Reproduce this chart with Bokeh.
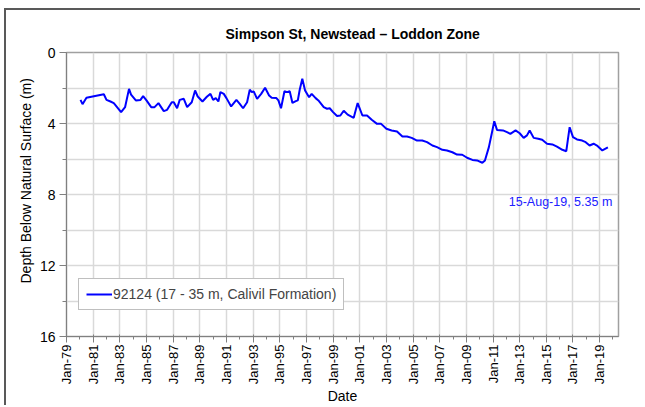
import math
import pandas as pd
from bokeh.plotting import figure
from bokeh.models import (Range1d, FixedTicker, DatetimeTickFormatter, Legend,
                          LegendItem, Label, Title, ColumnDataSource)
from bokeh.embed import file_html
from bokeh.resources import INLINE

title_text = "Simpson St, Newstead \u2013 Loddon Zone"
series_name = "92124 (17 - 35 m, Calivil Formation)"
y_label = "Depth Below Natural Surface (m)"
x_label = "Date"
last_note = "15-Aug-19, 5.35 m"

dates = [
    "1980-01-20", "1980-03-15", "1980-07-01", "1981-10-20", "1982-01-01", "1982-04-20",
    "1982-07-20", "1983-02-05", "1983-05-25", "1983-09-10", "1983-11-05", "1984-03-15",
    "1984-07-20", "1984-10-01", "1985-01-01", "1985-05-10", "1985-08-10", "1985-11-25",
    "1986-04-20", "1986-07-20", "1986-11-25", "1987-01-20", "1987-04-20", "1987-07-01",
    "1987-10-20", "1988-01-20", "1988-05-25", "1988-08-25", "1988-11-05", "1989-03-15",
    "1989-07-20", "1989-10-20", "1990-01-01", "1990-03-15", "1990-05-25", "1990-07-20",
    "1990-10-20", "1991-01-01", "1991-05-10", "1991-10-01", "1992-01-01", "1992-04-01",
    "1992-07-20", "1992-10-01", "1992-11-25", "1993-01-20", "1993-04-20", "1993-08-10",
    "1993-11-25", "1994-03-15", "1994-05-25", "1994-10-01", "1994-11-25", "1995-02-05",
    "1995-05-10", "1995-07-20", "1995-10-01", "1995-12-15", "1996-03-15", "1996-05-10",
    "1996-07-01", "1996-09-10", "1996-11-25", "1997-03-15", "1997-05-25", "1997-09-10",
    "1997-11-25", "1998-04-20", "1998-07-20", "1998-10-01", "1999-01-01", "1999-04-20",
    "1999-07-20", "1999-10-20", "2000-02-05", "2000-07-20", "2000-09-10", "2000-11-05",
    "2001-03-15", "2001-07-20", "2001-11-25", "2002-04-20", "2002-08-10", "2003-01-01",
    "2003-05-25", "2003-10-20", "2004-03-15", "2004-07-20", "2004-11-25", "2005-04-20",
    "2005-09-10", "2006-01-20", "2006-06-15", "2006-10-20", "2007-03-15", "2007-07-20",
    "2007-12-15", "2008-04-20", "2008-09-10", "2009-01-20", "2009-06-15", "2009-10-20",
    "2010-03-15", "2010-05-25", "2010-09-10", "2010-12-15", "2011-02-05", "2011-04-20",
    "2011-10-01", "2012-01-20", "2012-04-20", "2012-09-10", "2013-01-01", "2013-04-20",
    "2013-07-20", "2013-10-01", "2014-01-20", "2014-05-25", "2014-09-10", "2015-01-20",
    "2015-06-15", "2015-10-20", "2016-03-15", "2016-07-01", "2016-08-10", "2016-10-01",
    "2017-01-01", "2017-04-20", "2017-09-10", "2017-12-15", "2018-04-01", "2018-07-20",
    "2018-10-20", "2019-03-15", "2019-08-15",
]
depths = [
    2.67, 2.91, 2.55, 2.35, 2.67, 2.76,
    2.85, 3.36, 3.08, 2.05, 2.37, 2.70,
    2.67, 2.46, 2.70, 3.08, 3.08, 2.85,
    3.30, 3.23, 2.80, 2.80, 3.14, 2.67,
    2.61, 3.08, 2.80, 2.14, 2.48, 2.76,
    2.48, 2.33, 2.67, 2.57, 2.76, 2.23,
    2.33, 2.57, 3.04, 2.67, 2.89, 3.14,
    2.80, 2.10, 2.23, 2.20, 2.61, 2.33,
    1.99, 2.42, 2.55, 2.57, 2.70, 3.14,
    2.18, 2.23, 2.18, 2.84, 2.74, 2.70,
    2.10, 1.48, 2.14, 2.52, 2.33, 2.57,
    2.70, 3.08, 3.17, 3.14, 3.36, 3.58,
    3.55, 3.28, 3.50, 3.68, 3.27, 2.85,
    3.55, 3.55, 3.79, 4.02, 4.02, 4.30,
    4.39, 4.45, 4.73, 4.73, 4.81, 4.96,
    4.96, 5.05, 5.24, 5.33, 5.48, 5.52,
    5.62, 5.75, 5.76, 5.93, 6.05, 6.08,
    6.21, 6.08, 5.33, 4.39, 3.87, 4.36,
    4.39, 4.49, 4.58, 4.39, 4.55, 4.81,
    4.67, 4.39, 4.81, 4.86, 4.92, 5.14,
    5.18, 5.30, 5.48, 5.56, 4.96, 4.21,
    4.77, 4.90, 4.96, 5.05, 5.24, 5.14,
    5.24, 5.52, 5.35,
]

x_start = "1979-01-01"
x_end = "2020-06-01"
major_years = list(range(1979, 2020, 2))
minor_years = list(range(1980, 2021, 2))
y_major = [0, 4, 8, 12, 16]
y_minor = [2, 6, 10, 14]

FONT = "Liberation Sans"

def ms(d):
    return pd.Timestamp(d).value / 1e6

src = ColumnDataSource(dict(x=pd.to_datetime(dates), y=depths))

p = figure(width=636, height=397, output_backend="svg", toolbar_location=None,
           x_axis_type="datetime",
           x_range=Range1d(ms(x_start), ms(x_end)), y_range=Range1d(16, 0),
           min_border_left=60, min_border_top=42, min_border_right=24, min_border_bottom=71,
           styles={"margin-top": "8px", "margin-left": "4px",
                   "border-top": "2px solid #595959", "border-left": "2px solid #595959"})

p.background_fill_color = "white"
p.border_fill_color = "white"
p.outline_line_color = "#a0a0a0"
p.outline_line_width = 1.5

# title
p.title.text = title_text
p.title.align = "left"
p.title.offset = 159
p.title.text_font = FONT
p.title.text_font_size = "14px"
p.title.text_font_style = "bold"
p.title.text_color = "black"
p.title.standoff = 22

# y axis title
p.add_layout(Title(text=y_label, align="left", offset=53, standoff=5,
                   text_font=FONT, text_font_size="14px", text_font_style="normal",
                   text_color="black"), "left")

# x axis
xt = FixedTicker(ticks=[ms(f"{y}-01-01") for y in major_years],
                 minor_ticks=[ms(f"{y}-01-01") for y in minor_years])
p.xaxis.ticker = xt
fmt = "%b-%y"
p.xaxis.formatter = DatetimeTickFormatter(years=fmt, months=fmt, days=fmt, hours=fmt,
                                          minutes=fmt, seconds=fmt, milliseconds=fmt,
                                          microseconds=fmt, minsec=fmt, hourmin=fmt)
p.xaxis.major_label_orientation = math.pi / 2
p.xaxis.major_label_text_font = FONT
p.xaxis.major_label_text_font_size = "13px"
p.xaxis.major_label_text_color = "black"
p.xaxis.major_label_standoff = 2
p.xaxis.axis_label = x_label
p.xaxis.axis_label_text_font = FONT
p.xaxis.axis_label_text_font_size = "14px"
p.xaxis.axis_label_text_font_style = "normal"
p.xaxis.axis_label_text_color = "black"
p.xaxis.axis_label_standoff = 1
p.xaxis.axis_line_color = "#808080"
p.xaxis.major_tick_line_color = "#808080"
p.xaxis.minor_tick_line_color = "#808080"
p.xaxis.major_tick_in = 2
p.xaxis.major_tick_out = 6
p.xaxis.minor_tick_in = 0
p.xaxis.minor_tick_out = 3

# y axis
p.yaxis.ticker = FixedTicker(ticks=y_major, minor_ticks=y_minor)
p.yaxis.major_label_text_font = FONT
p.yaxis.major_label_text_font_size = "14px"
p.yaxis.major_label_text_color = "black"
p.yaxis.major_label_standoff = 4
p.yaxis.axis_line_color = "#808080"
p.yaxis.major_tick_line_color = "#808080"
p.yaxis.minor_tick_line_color = "#808080"
p.yaxis.major_tick_in = 0
p.yaxis.major_tick_out = 7
p.yaxis.minor_tick_in = 0
p.yaxis.minor_tick_out = 4

# grids
p.xgrid.grid_line_color = "#d9d9d9"
p.xgrid.grid_line_width = 1.5
p.ygrid.grid_line_color = "#d9d9d9"
p.ygrid.grid_line_width = 1.5
p.ygrid.minor_grid_line_color = "#d9d9d9"
p.ygrid.minor_grid_line_width = 1.5

r = p.line("x", "y", source=src, line_color="#0000ff", line_width=2)

legend = Legend(items=[LegendItem(label=series_name, renderers=[r])],
                location=(12, 26), margin=0, padding=7, spacing=0,
                glyph_width=26, glyph_height=12, label_height=12, label_standoff=1,
                label_text_font=FONT, label_text_font_size="14px",
                border_line_color="#808080", border_line_width=1,
                background_fill_color="white", background_fill_alpha=1)
p.add_layout(legend, "center")

note = Label(x=ms("2019-12-15"), y=8.45, text=last_note, text_align="right",
             text_baseline="middle", text_font=FONT, text_font_size="12.5px",
             text_color="#2020ff")
p.add_layout(note)

open("out.html", "w").write(file_html(p, INLINE))
